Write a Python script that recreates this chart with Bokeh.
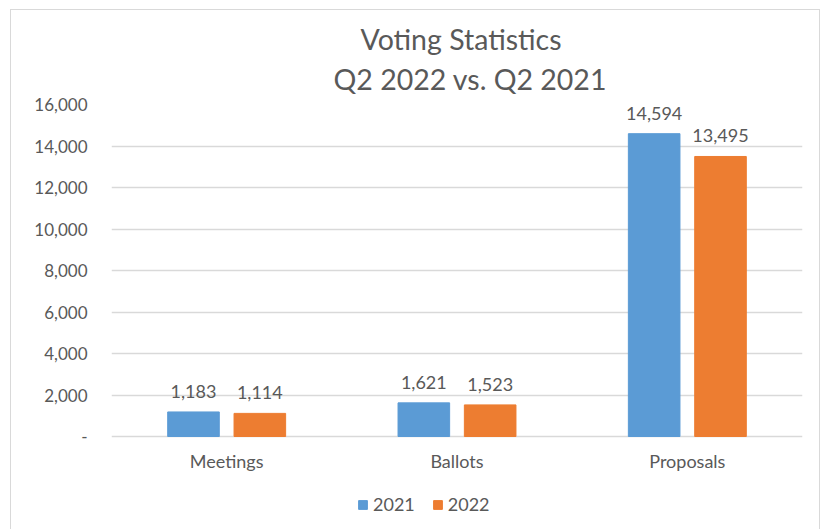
from bokeh.plotting import figure
from bokeh.models import ColumnDataSource, FactorRange, Title, Legend, LegendItem, LabelSet, NumeralTickFormatter
from bokeh.core.properties import value
from bokeh.transform import dodge
from bokeh.embed import file_html
from bokeh.resources import INLINE

categories = ["Meetings", "Ballots", "Proposals"]
values_2021 = [1183, 1621, 14594]
values_2022 = [1114, 1523, 13495]
series_names = ["2021", "2022"]
y_ticks = [0, 2000, 4000, 6000, 8000, 10000, 12000, 14000, 16000]

FONT = "Lato"
GREY = "#595959"
BLUE = "#5B9BD5"
ORANGE = "#ED7D31"

src = ColumnDataSource(dict(
    cat=categories,
    zero=[0] * len(categories),
    v21=values_2021,
    v22=values_2022,
    l21=[f"{v:,}" for v in values_2021],
    l22=[f"{v:,}" for v in values_2022],
))

# frame extends below zero so that category labels and legend live inside it
y_top = y_ticks[-1]
y_bottom = -y_top * 89 / 332

p = figure(width=810, height=520, x_range=FactorRange(factors=categories),
           y_range=(y_bottom, y_top), output_backend="svg", toolbar_location=None,
           min_border_left=100, min_border_right=19, min_border_bottom=5, min_border_top=94)
p.styles = {"margin-left": "10px", "margin-top": "9px",
            "border-top": "1px solid #d9d9d9", "border-left": "1px solid #d9d9d9",
            "border-right": "1px solid #d9d9d9"}
p.outline_line_color = None
p.title.visible = False

p.add_layout(Title(text="Q2 2022 vs. Q2 2021", align="left", text_font=FONT,
                   text_font_size="28.5px", text_font_style="normal", text_color=GREY,
                   standoff=17, offset=222), "above")
p.add_layout(Title(text="Voting Statistics", align="left", text_font=FONT,
                   text_font_size="28.5px", text_font_style="normal", text_color=GREY,
                   standoff=-8, offset=249), "above")

off = 0.144
w = 0.224
r1 = p.vbar(x=dodge("cat", -off, range=p.x_range), top="v21", width=w, source=src,
            fill_color=BLUE, line_color=BLUE)
r2 = p.vbar(x=dodge("cat", off, range=p.x_range), top="v22", width=w, source=src,
            fill_color=ORANGE, line_color=ORANGE)

for col, lab, o in (("v21", "l21", -off), ("v22", "l22", off)):
    p.add_layout(LabelSet(x=dodge("cat", o, range=p.x_range), y=col, text=lab, source=src,
                          text_align="center", text_baseline="alphabetic", y_offset=14,
                          text_font=value(FONT), text_font_size=value("18px"),
                          text_color=GREY))

# category labels under the baseline
p.add_layout(LabelSet(x="cat", y="zero", text="cat", source=src, text_align="center",
                      text_baseline="alphabetic", y_offset=-31, text_font=value(FONT),
                      text_font_size=value("18px"), text_color=GREY))

p.xaxis.visible = False
p.xgrid.grid_line_color = None
p.ygrid.grid_line_color = "#d9d9d9"
p.ygrid.grid_line_width = 1.3

p.yaxis.ticker = y_ticks
p.yaxis.formatter = NumeralTickFormatter(format="0,0")
p.yaxis.major_label_overrides = {0: "-"}
ax = p.yaxis[0]
ax.axis_line_color = None
ax.major_tick_line_color = None
ax.minor_tick_line_color = None
ax.major_tick_out = 0
ax.major_tick_in = 0
ax.minor_tick_out = 0
ax.major_label_text_font = FONT
ax.major_label_text_font_size = "17px"
ax.major_label_text_color = GREY
ax.major_label_standoff = 24

legend = Legend(items=[LegendItem(label=series_names[0], renderers=[r1]),
                       LegendItem(label=series_names[1], renderers=[r2])],
                orientation="horizontal", location=(246, 10),
                label_text_font=FONT, label_text_font_size="18px", label_text_color=GREY,
                glyph_width=11, glyph_height=11, spacing=17, label_standoff=5,
                padding=0, margin=0, label_height=20,
                border_line_color=None, background_fill_alpha=0)
p.add_layout(legend, "center")

open("out.html", "w").write(file_html(p, INLINE))
